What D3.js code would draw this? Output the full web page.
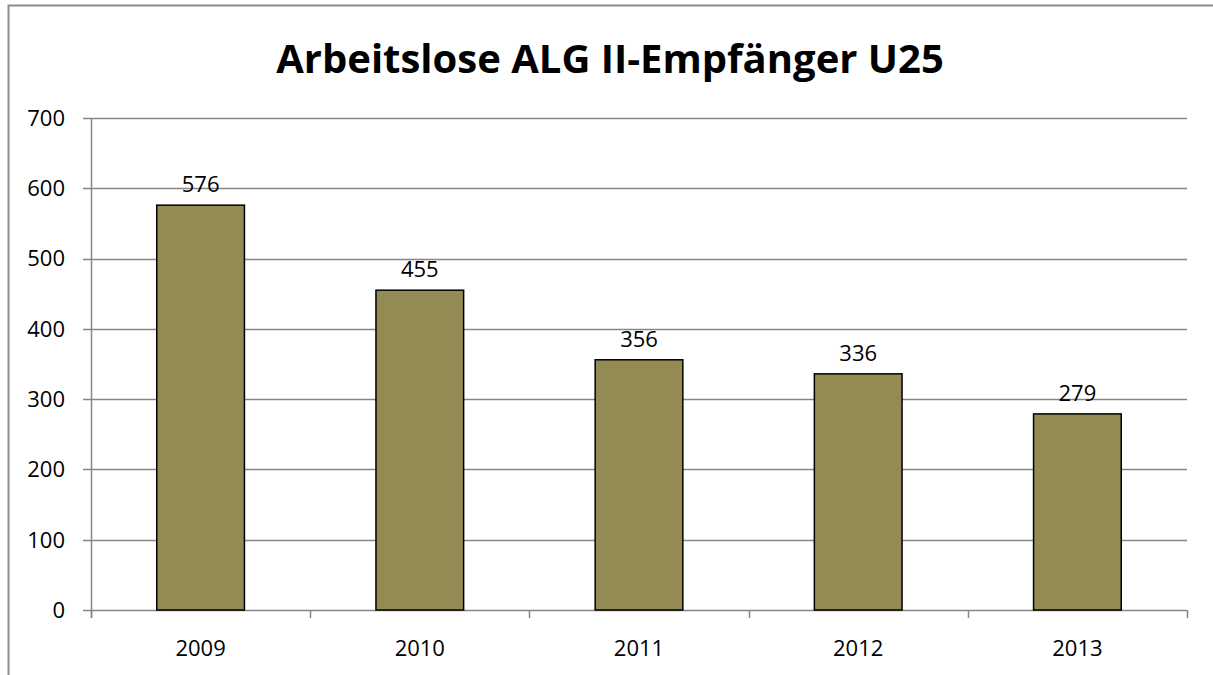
<!DOCTYPE html>
<html>
<head>
<meta charset="utf-8">
<script src="https://cdn.jsdelivr.net/npm/d3@7"></script>
<style>
  html, body { margin: 0; background: #fff; overflow: hidden; }
  svg { display: block; }
  text { font-family: "Open Sans", "Liberation Sans", sans-serif; fill: #000; }
</style>
</head>
<body>
<div id="chart"></div>
<script>
// Daten
const years = ["2009", "2010", "2011", "2012", "2013"];
const values = [576, 455, 356, 336, 279];
const yTicks = [0, 100, 200, 300, 400, 500, 600, 700];
const title = "Arbeitslose ALG II-Empfänger U25";

const config = { width: 1213, height: 675, left: 91, right: 26, top: 118, bottom: 65 };

const svg = d3.select("#chart")
    .append("svg")
    .attr("width", config.width)
    .attr("height", config.height);

// Rahmen (nur oben und links sichtbar)
svg.append("path")
    .attr("d", `M8.5,${config.height} V5.5 H${config.width}`)
    .attr("fill", "none")
    .attr("stroke", "#8c8c8c")
    .attr("stroke-width", 2);

const x = d3.scaleBand()
    .domain(years)
    .range([config.left, config.width - config.right])
    .paddingInner(0.6)
    .paddingOuter(0.3);

const y = d3.scaleLinear()
    .domain([0, 700])
    .range([config.height - config.bottom, config.top]);

// Gitterlinien
svg.append("g")
    .selectAll("line")
    .data(yTicks)
    .enter().append("line")
        .attr("x1", config.left - 8)
        .attr("x2", config.width - config.right)
        .attr("y1", d => Math.round(y(d)) + 0.5)
        .attr("y2", d => Math.round(y(d)) + 0.5)
        .attr("stroke", "#868686")
        .attr("stroke-width", 1.5);

// y-Achse
svg.append("line")
    .attr("x1", config.left + 0.5).attr("x2", config.left + 0.5)
    .attr("y1", config.top).attr("y2", y(0) + 8)
    .attr("stroke", "#868686").attr("stroke-width", 1.5);

svg.append("g")
    .selectAll("text")
    .data(yTicks)
    .enter().append("text")
        .attr("x", 65)
        .attr("y", d => y(d))
        .attr("dy", "0.36em")
        .style("text-anchor", "end")
        .style("font-size", "22px")
        .text(d => d);

// x-Achse Ticks an Kategoriegrenzen
const step = x.step();
const bounds = d3.range(years.length + 1).map(i => config.left + i * step);
svg.append("g")
    .selectAll("line")
    .data(bounds)
    .enter().append("line")
        .attr("x1", d => Math.round(d) + 0.5)
        .attr("x2", d => Math.round(d) + 0.5)
        .attr("y1", y(0))
        .attr("y2", y(0) + 8)
        .attr("stroke", "#868686")
        .attr("stroke-width", 1.5);

svg.append("g")
    .selectAll("text")
    .data(years)
    .enter().append("text")
        .attr("x", d => x(d) + x.bandwidth() / 2)
        .attr("y", y(0) + 46)
        .style("text-anchor", "middle")
        .style("font-size", "22px")
        .text(d => d);

// Balken
svg.append("g")
    .selectAll("rect")
    .data(values)
    .enter().append("rect")
        .attr("x", (d, i) => x(years[i]))
        .attr("y", d => y(d))
        .attr("width", x.bandwidth())
        .attr("height", d => y(0) - y(d))
        .attr("fill", "#948a54")
        .attr("stroke", "#000")
        .attr("stroke-width", 1.5);

// Werte
svg.append("g")
    .selectAll("text")
    .data(values)
    .enter().append("text")
        .attr("x", (d, i) => x(years[i]) + x.bandwidth() / 2)
        .attr("y", d => y(d) - 13)
        .style("text-anchor", "middle")
        .style("font-size", "22px")
        .text(d => d);

// Titel
svg.append("text")
    .attr("x", 610)
    .attr("y", 73)
    .style("text-anchor", "middle")
    .style("font-size", "40px")
    .attr("font-weight", "bold")
    .text(title);
</script>
</body>
</html>
